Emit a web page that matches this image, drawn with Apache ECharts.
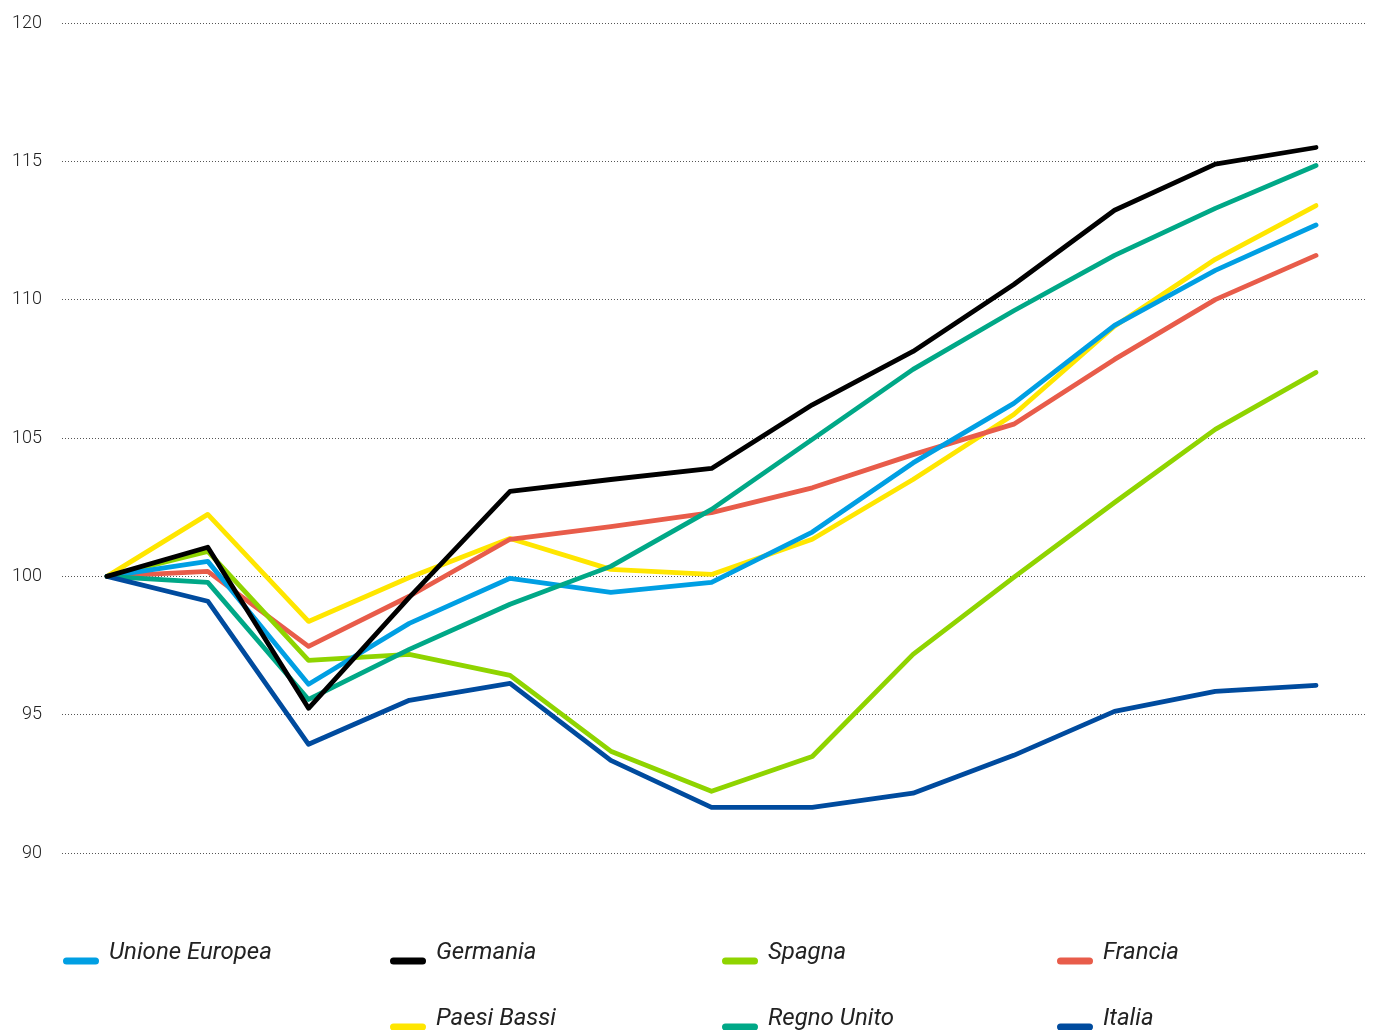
<!DOCTYPE html>
<html><head><meta charset="utf-8">
<script src="https://cdn.jsdelivr.net/npm/echarts@6/dist/echarts.min.js"></script>
<style>html,body{margin:0;padding:0;background:#fff}#c{width:1377px;height:1030px}</style>
</head><body><div id="c"></div>
<script>
const periods = ['1','2','3','4','5','6','7','8','9','10','11','12','13'];
const yTicks = [90, 95, 100, 105, 110, 115, 120];
const unioneEuropea = [100, 100.54, 96.1, 98.3, 99.93, 99.42, 99.78, 101.6, 104.1, 106.25, 109.07, 111.06, 112.7];
const germania      = [100, 101.05, 95.23, 99.24, 103.07, 103.5, 103.9, 106.2, 108.13, 110.55, 113.23, 114.9, 115.5];
const spagna        = [100, 100.9, 96.96, 97.18, 96.42, 93.68, 92.23, 93.49, 97.18, 99.96, 102.67, 105.31, 107.37];
const francia       = [100, 100.18, 97.47, 99.28, 101.34, 101.8, 102.3, 103.2, 104.4, 105.5, 107.84, 110.0, 111.6];
const paesiBassi    = [100, 102.24, 98.37, 99.96, 101.37, 100.25, 100.07, 101.34, 103.5, 105.85, 109.04, 111.46, 113.4];
const regnoUnito    = [100, 99.78, 95.55, 97.36, 98.99, 100.36, 102.42, 104.95, 107.48, 109.6, 111.6, 113.3, 114.85];
const italia        = [100, 99.1, 93.93, 95.52, 96.13, 93.35, 91.65, 91.65, 92.16, 93.53, 95.12, 95.84, 96.06];

const seriesDefs = [
  {name:'Unione Europea', data:unioneEuropea, color:'#009fe3', z:5},
  {name:'Germania', data:germania, color:'#000000', z:9},
  {name:'Spagna', data:spagna, color:'#8fd400', z:4},
  {name:'Francia', data:francia, color:'#e85c4a', z:3},
  {name:'Paesi Bassi', data:paesiBassi, color:'#ffe600', z:2},
  {name:'Regno Unito', data:regnoUnito, color:'#00a887', z:6},
  {name:'Italia', data:italia, color:'#004b9e', z:7}
];
const legendPos = [
  [63, 0], [390, 0], [722, 0], [1057, 0],
  [390, 1], [722, 1], [1057, 1]
];
const iconPath = 'path://M0,0 M3.5,16 L32.5,16 A3.5,3.5 0 0 1 32.5,23 L3.5,23 A3.5,3.5 0 0 1 3.5,16 Z M36,0';

const chart = echarts.init(document.getElementById('c'));
const legends = seriesDefs.map((s, i) => ({
  data: [s.name],
  left: legendPos[i][0],
  top: 941 + legendPos[i][1] * 66,
  padding: 0,
  orient: 'horizontal',
  itemWidth: 36, itemHeight: 23,
  icon: iconPath,
  selectedMode: false,
  textStyle: {fontFamily: 'Roboto', fontStyle: 'italic', fontSize: 24, color: '#222', padding: [0, 0, 0, 5]},
  itemStyle: {borderWidth: 0}
}));

chart.setOption({
  animation: false,
  backgroundColor: '#fff',
  grid: {left: 62, right: 10, top: 23, bottom: 177, containLabel: false},
  xAxis: {type: 'value', min: -0.447, max: 12.506, show: false},
  yAxis: {
    type: 'value', min: 90, max: 120, interval: 5,
    axisLine: {show: false}, axisTick: {show: false},
    axisLabel: {margin: 20, fontFamily: 'Roboto', fontWeight: 300, fontSize: 18, color: '#222',
      formatter: v => yTicks.includes(v) ? String(v) : ''},
    splitLine: {show: true, lineStyle: {color: '#555', width: 1, type: [1, 2]}}
  },
  legend: legends,
  series: seriesDefs.map(s => ({
    name: s.name, type: 'line', z: s.z,
    data: s.data.map((v, i) => [i, v]),
    symbol: 'none', color: s.color,
    lineStyle: {width: 4.8, color: s.color, cap: 'round', join: 'round'}
  }))
});
</script></body></html>
